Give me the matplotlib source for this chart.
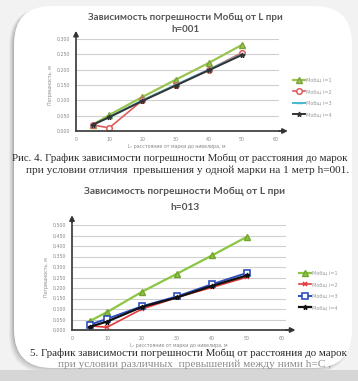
import matplotlib
matplotlib.use("Agg")
import matplotlib.pyplot as plt
from matplotlib.patches import FancyBboxPatch, Rectangle

# --- data ---
L = [5, 10, 20, 30, 40, 50]
x_ticks = [0, 10, 20, 30, 40, 50, 60]
series_names = ["Мобщ i=1", "Мобщ i=2", "Мобщ i=3", "Мобщ i=4"]

# chart 1, h=001
m1_h001 = [0.020, 0.052, 0.111, 0.167, 0.222, 0.281]
m2_h001 = [0.020, 0.010, 0.100, 0.150, 0.200, 0.255]
m3_h001 = [0.020, 0.045, 0.100, 0.150, 0.200, 0.250]
m4_h001 = [0.020, 0.045, 0.098, 0.148, 0.198, 0.248]
y_ticks_1 = [0.0, 0.05, 0.10, 0.15, 0.20, 0.25, 0.30]

# chart 2, h=013
m1_h013 = [0.042, 0.085, 0.182, 0.268, 0.355, 0.444]
m2_h013 = [0.020, 0.013, 0.100, 0.155, 0.203, 0.252]
m3_h013 = [0.025, 0.053, 0.113, 0.160, 0.218, 0.272]
m4_h013 = [0.015, 0.040, 0.110, 0.155, 0.210, 0.260]
y_ticks_2 = [0.0, 0.05, 0.10, 0.15, 0.20, 0.25, 0.30, 0.35, 0.40, 0.45, 0.50]

W, H = 358, 381
fig = plt.figure(figsize=(W / 100, H / 100), dpi=100, facecolor="#f2f2f2")


def box(x0, y0, x1, y1):
    # pixel box (top-left origin) -> figure fraction rect
    return [x0 / W, 1 - y1 / H, (x1 - x0) / W, (y1 - y0) / H]


# page card with a soft shadow
bg = fig.add_axes([0, 0, 1, 1], zorder=-10)
bg.set_xlim(0, W)
bg.set_ylim(H, 0)
bg.axis("off")
for i, a in enumerate([0.05, 0.06, 0.08, 0.10]):
    d = 8 - 2 * i
    bg.add_patch(FancyBboxPatch((14 - d * 0.6, 8), 336 + d * 0.6, 358 + d * 0.8,
                                boxstyle="round,pad=0,rounding_size=38",
                                fc="#000000", ec="none", alpha=a))
bg.add_patch(FancyBboxPatch((14, 6), 338, 362, boxstyle="round,pad=0,rounding_size=38",
                            fc="white", ec="none"))

band_grey = "#d6d6d6"


def draw_chart(rect, ylim, yticks, data, styles, legend_y, legend_x):
    ax = fig.add_axes(rect)
    ax.set_facecolor("none")
    ax.set_xlim(0, 61)
    ax.set_ylim(*ylim)
    ax.set_xticks(x_ticks)
    ax.set_yticks(yticks)
    ax.set_yticklabels([f"{v:.3f}" for v in yticks])
    ax.tick_params(length=0, labelsize=3.4, labelcolor="#888888", pad=4)
    ax.grid(axis="y", color="#d0d0d0", lw=0.8)
    ax.set_axisbelow(True)
    for s in ["top", "right"]:
        ax.spines[s].set_visible(False)
    for s in ["left", "bottom"]:
        ax.spines[s].set_color("#444444")
        ax.spines[s].set_linewidth(1.3)
    ax.annotate("", xy=(0, 1.12), xytext=(0, 0.99), xycoords="axes fraction",
                arrowprops=dict(arrowstyle="-|>", color="#333333", lw=1.3,
                                mutation_scale=7))
    ax.annotate("", xy=(1.06, 0), xytext=(0.99, 0), xycoords="axes fraction",
                arrowprops=dict(arrowstyle="-|>", color="#333333", lw=1.3,
                                mutation_scale=7))
    ax.set_ylabel("Погрешность, м", fontsize=3.4, color="#888888", labelpad=3)
    ax.set_xlabel("L- расстояние от марки до нивелира, м", fontsize=3.4,
                  color="#888888", labelpad=2)
    handles = []
    for ys, st in zip(data, styles):
        h, = ax.plot(L, ys, clip_on=False, **st)
        handles.append(h)
    fig.legend(handles, series_names, loc="upper left",
               bbox_to_anchor=(legend_x / W, 1 - legend_y / H), frameon=False,
               fontsize=3.6, labelcolor="#999999", handlelength=2.4,
               labelspacing=1.3, handletextpad=0.3)
    return ax


styles_1 = [
    dict(color="#9bc34f", lw=1.6, marker="^", ms=4.5, mfc="#9bc34f", mec="#7aa33a"),
    dict(color="#e05a5a", lw=1.2, marker="o", ms=4, mfc="white", mec="#e05a5a", mew=1.1),
    dict(color="#46b8d0", lw=1.4, marker="_", ms=4, mec="#46b8d0"),
    dict(color="#333333", lw=1.4, marker="*", ms=3.5, mfc="#333333", mec="#333333"),
]
styles_2 = [
    dict(color="#8cc540", lw=1.6, marker="^", ms=4.5, mfc="#8cc540", mec="#6fa52e"),
    dict(color="#e03a3a", lw=1.2, marker="x", ms=3.5, mec="#e03a3a", mew=1.1),
    dict(color="#2f4fc0", lw=1.4, marker="s", ms=4, mfc="white", mec="#2f4fc0", mew=1.2),
    dict(color="#111111", lw=1.6, marker="*", ms=3.5, mfc="#111111", mec="#111111"),
]

# chart 1
draw_chart(box(76, 39, 278.5, 131), (0, 0.30), y_ticks_1,
           [m1_h001, m2_h001, m3_h001, m4_h001], styles_1, 73, 288)
fig.text(185 / W, 1 - 17 / H, "Зависимость погрешности Мобщ от L при",
         ha="center", va="center", fontsize=7, fontweight="bold",
         family="Lato", color="#555555")
fig.text(185 / W, 1 - 29 / H, "h=001", ha="center", va="center", fontsize=7,
         fontweight="bold", family="Lato", color="#555555")

cap = dict(family="Liberation Serif", fontsize=8.2, color="#2a2a2a", va="center")
fig.text(12 / W, 1 - 158 / H,
         "Рис. 4. График зависимости погрешности Мобщ от расстояния до марок",
         ha="left", **dict(cap, fontsize=7.8))
fig.text(188 / W, 1 - 170 / H,
         "при условии отличия  превышения у одной марки на 1 метр h=001.",
         ha="center", **cap)

# chart 2
draw_chart(box(72, 225, 285.5, 330), (0, 0.50), y_ticks_2,
           [m1_h013, m2_h013, m3_h013, m4_h013], styles_2, 266, 294)
fig.text(185 / W, 1 - 191 / H, "Зависимость погрешности Мобщ от L при",
         ha="center", va="center", fontsize=7.3, fontweight="bold",
         family="Lato", color="#555555")
fig.text(185 / W, 1 - 207 / H, "h=013", ha="center", va="center", fontsize=7.3,
         fontweight="bold", family="Lato", color="#555555")
fig.text(30 / W, 1 - 353 / H,
         "5. График зависимости погрешности Мобщ от расстояния до марок",
         ha="left", **dict(cap, fontsize=7.9))
fig.text(58 / W, 1 - 364 / H,
         "при условии различных  превышений между ними h=C ,",
         ha="left", **dict(cap, color="#8a8a8a"))

# grey band below the card
fig.add_artist(Rectangle((0, 0), 1, 11 / H, transform=fig.transFigure,
                         fc=band_grey, ec="none", zorder=20))

fig.savefig("out.png", dpi=100, facecolor=fig.get_facecolor())
